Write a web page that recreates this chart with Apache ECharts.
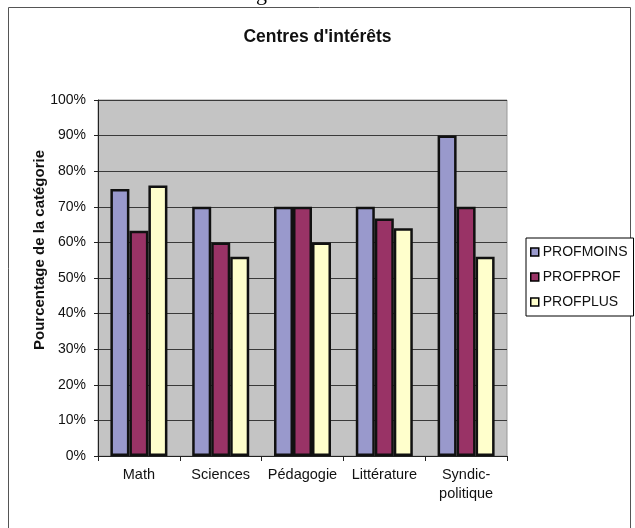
<!DOCTYPE html>
<html>
<head>
<meta charset="utf-8">
<script src="https://cdn.jsdelivr.net/npm/echarts@6/dist/echarts.min.js"></script>
<style>
  html, body { margin: 0; padding: 0; background: #fff; }
  #chart { width: 635px; height: 528px; }
</style>
</head>
<body>
<div id="chart"></div>
<script>
// données (en %)
const categories = ['Math', 'Sciences', 'Pédagogie', 'Littérature', 'Syndic-\npolitique']
const profMoins = [75, 70, 70, 70, 90]
const profProf = [63.3, 60, 70, 66.7, 70]
const profPlus = [76, 56, 60, 64, 56]
const yTicks = [0, 10, 20, 30, 40, 50, 60, 70, 80, 90, 100]

const font = '"Liberation Sans", Arial, sans-serif'

const barStyle = (color) => ({
  color: color,
  borderColor: '#111',
  borderWidth: 2.5
})

const chart = echarts.init(document.getElementById('chart'))

const option = {
  animation: false,
  textStyle: { fontFamily: font },
  title: {
    text: "Centres d'intérêts",
    left: 'center',
    top: 23,
    textStyle: { fontSize: 17.5, fontWeight: 'bold', color: '#111', fontFamily: font }
  },
  graphic: [
    {
      type: 'rect',
      shape: { x: 8.5, y: 7.5, width: 622, height: 540 },
      style: { fill: 'none', stroke: '#555', lineWidth: 1 },
      z: -1
    },
    {
      type: 'text',
      left: 256,
      top: -17,
      style: { text: 'g', fontSize: 22, fontFamily: '"Liberation Serif", serif', fill: '#000' }
    },
    {
      // titre de l'axe vertical, pas centré sur la zone de tracé dans l'original
      type: 'text',
      x: 40,
      y: 250,
      rotation: Math.PI / 2,
      style: {
        text: 'Pourcentage de la catégorie',
        fontSize: 15,
        fontWeight: 'bold',
        fontFamily: font,
        fill: '#111',
        align: 'center',
        verticalAlign: 'middle'
      }
    }
  ],
  legend: {
    orient: 'vertical',
    left: 526,
    top: 238,
    itemWidth: 8,
    itemHeight: 8,
    itemGap: 9,
    padding: [6, 6, 6, 4],
    borderColor: '#000',
    borderWidth: 1,
    backgroundColor: '#fff',
    icon: 'rect',
    itemStyle: { borderColor: '#000', borderWidth: 1.5 },
    textStyle: { fontSize: 14, lineHeight: 16, color: '#111', padding: [0, 0, 0, -1], fontFamily: font },
    data: ['PROFMOINS', 'PROFPROF', 'PROFPLUS']
  },
  grid: {
    left: 98,
    top: 100,
    width: 409,
    height: 356,
    show: true,
    backgroundColor: '#c4c4c4',
    borderColor: '#999',
    borderWidth: 1
  },
  xAxis: {
    type: 'category',
    data: categories,
    boundaryGap: true,
    axisLine: { lineStyle: { color: '#222', width: 1 } },
    axisTick: { show: true, length: 5, lineStyle: { color: '#222' } },
    axisLabel: { fontSize: 14.5, color: '#111', margin: 9, lineHeight: 19, interval: 0, fontFamily: font },
    splitLine: { show: false }
  },
  yAxis: {
    type: 'value',
    min: 0,
    max: 100,
    interval: 10,
    axisLine: { show: true, lineStyle: { color: '#222', width: 1 } },
    axisTick: { show: true, length: 4, lineStyle: { color: '#222' } },
    axisLabel: {
      fontSize: 14,
      color: '#111',
      margin: 12,
      fontFamily: font,
      formatter: (v) => (yTicks.includes(v) ? v + '%' : '')
    },
    splitLine: { show: true, lineStyle: { color: '#3a3a3a', width: 1 } }
  },
  series: [
    {
      name: 'PROFMOINS',
      type: 'bar',
      data: profMoins,
      barWidth: 19,
      barGap: '0%',
      itemStyle: barStyle('#9999cc')
    },
    {
      name: 'PROFPROF',
      type: 'bar',
      data: profProf,
      barWidth: 19,
      barGap: '0%',
      itemStyle: barStyle('#993366')
    },
    {
      name: 'PROFPLUS',
      type: 'bar',
      data: profPlus,
      barWidth: 19,
      barGap: '0%',
      itemStyle: barStyle('#ffffcc')
    }
  ]
}

chart.setOption(option)
</script>
</body>
</html>
